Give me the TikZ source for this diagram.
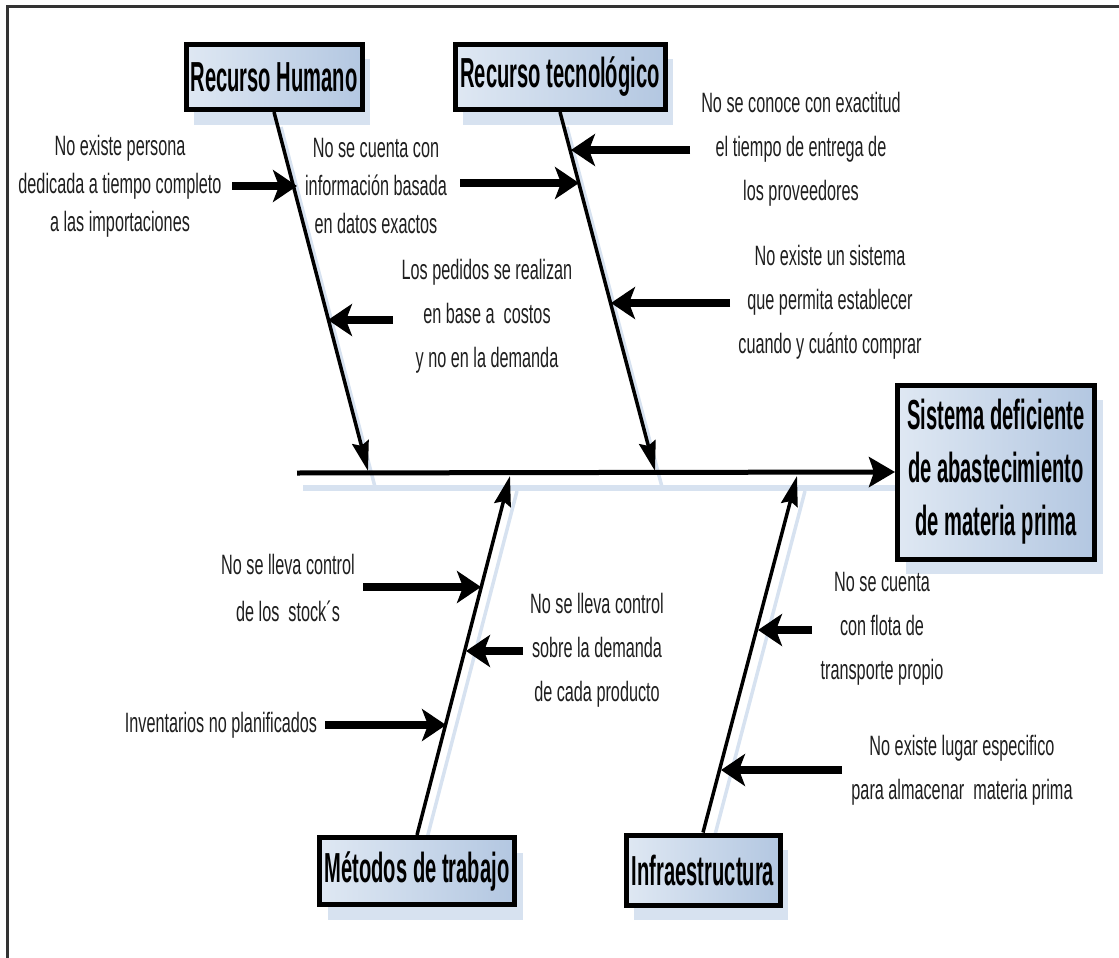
\documentclass[tikz,border=0pt]{standalone}
\usepackage{fontspec}
\setmainfont{Liberation Sans}
\newfontfamily\causefont{Liberation Sans}[FakeStretch=0.58]
\newfontfamily\headfont{Liberation Sans}[FakeStretch=0.48]
\usetikzlibrary{arrows.meta,shadows}
\definecolor{boxL}{HTML}{DFE8F3}
\definecolor{boxR}{HTML}{B3C7E1}
\definecolor{shadowblue}{HTML}{D7E2F0}

\tikzset{
  headbox/.style={draw=black, line width=5pt, left color=boxL, right color=boxR,
    inner sep=0pt, align=center, text=black,
    font=\headfont\bfseries\fontsize{42}{53}\selectfont,
    drop shadow={shadow xshift=8pt, shadow yshift=-15pt, fill=shadowblue, opacity=1}},
  cause/.style={align=center, text=black!88, inner sep=0pt,
    font=\causefont\fontsize{28}{44}\selectfont},
  causetight/.style={font=\causefont\fontsize{28}{38}\selectfont},
  causewide/.style={font=\causefont\fontsize{28}{47}\selectfont},
  subarrow/.style={line width=7.5pt, -{Stealth[length=24pt,width=32pt,inset=6pt]}},
  bone/.style={line width=3.5pt, -{Stealth[length=30pt,width=17pt,inset=4pt]}},
  boneshadow/.style={line width=3.5pt, draw=shadowblue},
}

\begin{document}
\begin{tikzpicture}[x=1pt,y=-1pt]
\useasboundingbox (0,0) rectangle (1119,958);

% outer frame (only top and left edges fall inside the page)
\draw[line width=3pt, black!80] (7,958) -- (7,7) -- (1119,7);

% bone end points
\coordinate (rhEnd)  at (368,471);
\coordinate (tecEnd) at (655,471);
\coordinate (metEnd) at (510,476);
\coordinate (infEnd) at (797,476);
\coordinate (spineStart) at (297,473);

% soft shadows under spine and bones
\draw[line width=6pt, draw=shadowblue] (303,488) -- (900,488);
\draw[boneshadow] (281,127) -- (375,487);
\draw[boneshadow] (567,127) -- (662,487);
\draw[boneshadow] (424,850) -- (517,491);
\draw[boneshadow] (711,850) -- (805,491);

% category boxes and effect box
\node[headbox, minimum width=176pt, minimum height=65pt] (rh)  at (274,77)  {Recurso Humano};
\node[headbox, minimum width=210pt, minimum height=65pt] (tec) at (560,77)  {Recurso tecnológico};
\node[headbox, minimum width=195pt, minimum height=67pt] (met) at (417,871) {Métodos de trabajo};
\node[headbox, minimum width=154pt, minimum height=70pt] (inf) at (703,870) {Infraestructura};
\node[headbox, minimum width=197pt, minimum height=174pt] (eff) at (996,472)
  {Sistema deficiente\\de abastecimiento\\de materia prima};

% spine and main bones
\draw[line width=5pt, -{Stealth[length=26pt,width=30pt,inset=5pt]}] (spineStart) -- (eff.west);
\draw[bone] (rh.south)  -- (rhEnd);
\draw[bone] (tec.south) -- (tecEnd);
\draw[bone] (met.north) -- (metEnd);
\draw[bone] (inf.north) -- (infEnd);

% causes
\node[cause, causetight] (c1) at (120,186) {No existe persona\\dedicada a tiempo completo\\a las importaciones};
\node[cause, causetight] (c2) at (376,186) {No se cuenta con\\información basada\\en datos exactos};
\node[cause] (c3) at (487,316) {Los pedidos se realizan\\en base a\ \ costos\\y no en la demanda};
\node[cause] (c4) at (801,149) {No se conoce con exactitud\\el tiempo de entrega de\\los proveedores};
\node[cause] (c5) at (830,302) {No existe un sistema\\que permita establecer\\cuando y cuánto comprar};
\node[cause, causewide] (c6) at (288,588) {No se lleva control\\de los\ \ stock´s};
\node[cause] (c7) at (597,650) {No se lleva control\\sobre la demanda\\de cada producto};
\node[cause] (c8) at (221,725) {Inventarios no planificados};
\node[cause] (c9) at (882,629) {No se cuenta\\con flota de\\transporte propio};
\node[cause] (c10) at (962,770) {No existe lugar especifico\\para almacenar\ \ materia prima};

% arrow start and tip points
\coordinate (a1s) at (232,186);  \coordinate (a1t) at (297,186);
\coordinate (a2s) at (460,183);  \coordinate (a2t) at (579,183);
\coordinate (a3s) at (690,150);  \coordinate (a3t) at (571,150);
\coordinate (a4s) at (730,303);  \coordinate (a4t) at (611,303);
\coordinate (a5s) at (393,320);  \coordinate (a5t) at (328,320);
\coordinate (a6s) at (363,587);  \coordinate (a6t) at (481,587);
\coordinate (a7s) at (523,651);  \coordinate (a7t) at (466,651);
\coordinate (a8s) at (325,725);  \coordinate (a8t) at (446,725);
\coordinate (a9s) at (812,630);  \coordinate (a9t) at (758,630);
\coordinate (a10s) at (842,770); \coordinate (a10t) at (721,770);

\foreach \i in {1,...,10} \draw[subarrow] (a\i s) -- (a\i t);
\end{tikzpicture}
\end{document}
